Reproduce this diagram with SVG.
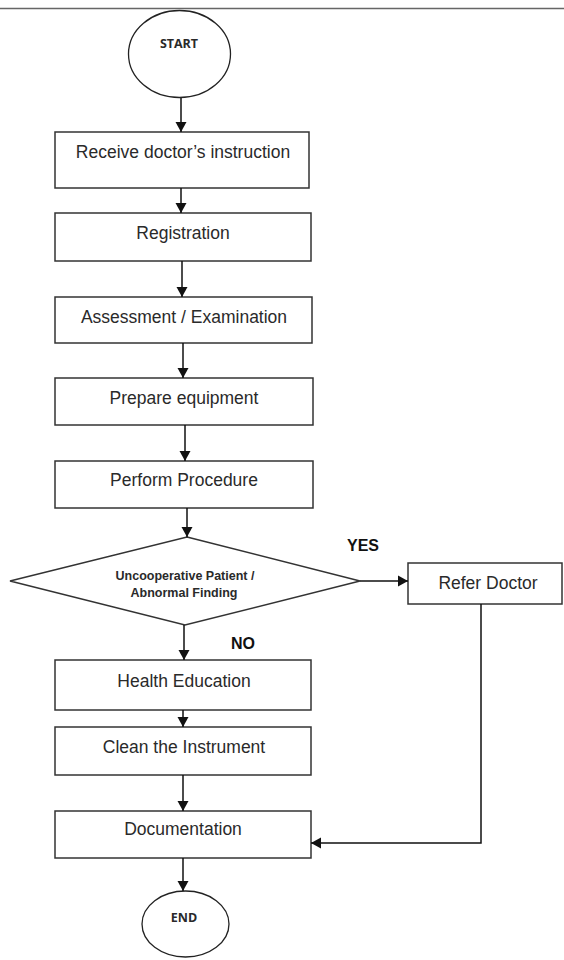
<svg xmlns="http://www.w3.org/2000/svg" width="564" height="960" viewBox="0 0 564 960">
  <defs>
    <marker id="arrow" viewBox="0 0 10 12" refX="10" refY="6" markerWidth="10" markerHeight="12" markerUnits="userSpaceOnUse" orient="auto">
      <path d="M0,0.5 L10,6 L0,11.5 Z" fill="#111"/>
    </marker>
    <style>
      .box { fill: #fff; stroke: #333; stroke-width: 1.5; }
      .term { fill: #fff; stroke: #222; stroke-width: 1.3; }
      .lbl { font-family: "Liberation Sans", Arial, sans-serif; font-size: 17.5px; fill: #2a2a2a; text-anchor: middle; }
      .term-lbl { font-family: "Open Sans", "Liberation Sans", sans-serif; font-weight: bold; font-size: 12.5px; fill: #2a2a2a; text-anchor: middle; }
      .dec-lbl { font-family: "Liberation Sans", Arial, sans-serif; font-weight: bold; font-size: 12.5px; fill: #2a2a2a; text-anchor: middle; }
      .branch { font-family: "Liberation Sans", Arial, sans-serif; font-weight: bold; font-size: 16px; fill: #111; text-anchor: middle; }
      .conn { fill: none; stroke: #111; stroke-width: 1.5; marker-end: url(#arrow); }
    </style>
  </defs>

  <rect width="564" height="960" fill="#fff"/>
  <line x1="0" y1="8.5" x2="564" y2="8.5" stroke="#666" stroke-width="1.5"/>

  <g id="start">
    <ellipse class="term" cx="179.5" cy="54" rx="51" ry="43.5"/>
    <text class="term-lbl" x="179" y="48">START</text>
  </g>

  <g id="receive">
    <rect class="box" x="55" y="132" width="254" height="56"/>
    <text class="lbl" x="183" y="158">Receive doctor’s instruction</text>
  </g>

  <g id="registration">
    <rect class="box" x="55" y="213" width="256" height="48"/>
    <text class="lbl" x="183" y="239">Registration</text>
  </g>

  <g id="assessment">
    <rect class="box" x="55" y="297" width="257" height="46"/>
    <text class="lbl" x="184" y="323">Assessment / Examination</text>
  </g>

  <g id="prepare">
    <rect class="box" x="55" y="378" width="258" height="47"/>
    <text class="lbl" x="184" y="404">Prepare equipment</text>
  </g>

  <g id="perform">
    <rect class="box" x="55" y="461" width="258" height="47"/>
    <text class="lbl" x="184" y="486">Perform Procedure</text>
  </g>

  <g id="decision">
    <polygon class="box" points="187,537 360,581 185,625 10,581"/>
    <text class="dec-lbl" x="185" y="580">Uncooperative Patient /</text>
    <text class="dec-lbl" x="184" y="597">Abnormal Finding</text>
  </g>

  <g id="refer">
    <rect class="box" x="408" y="563" width="154" height="41"/>
    <text class="lbl" x="488" y="589">Refer Doctor</text>
  </g>

  <g id="health">
    <rect class="box" x="55" y="660" width="256" height="50"/>
    <text class="lbl" x="184" y="687">Health Education</text>
  </g>

  <g id="clean">
    <rect class="box" x="55" y="727" width="256" height="48"/>
    <text class="lbl" x="184" y="753">Clean the Instrument</text>
  </g>

  <g id="documentation">
    <rect class="box" x="55" y="811" width="256" height="47"/>
    <text class="lbl" x="183" y="835">Documentation</text>
  </g>

  <g id="end">
    <ellipse class="term" cx="185.5" cy="924" rx="43.5" ry="33"/>
    <text class="term-lbl" x="184" y="922">END</text>
  </g>

  <g id="connectors">
    <line class="conn" x1="181" y1="98" x2="181" y2="132"/>
    <line class="conn" x1="181" y1="188" x2="181" y2="213"/>
    <line class="conn" x1="182" y1="261" x2="182" y2="297"/>
    <line class="conn" x1="183" y1="343" x2="183" y2="378"/>
    <line class="conn" x1="185" y1="425" x2="185" y2="461"/>
    <line class="conn" x1="187" y1="508" x2="187" y2="537"/>
    <line class="conn" x1="360" y1="581" x2="408" y2="581"/>
    <line class="conn" x1="184" y1="625" x2="184" y2="660"/>
    <line class="conn" x1="183" y1="710" x2="183" y2="727"/>
    <line class="conn" x1="183" y1="775" x2="183" y2="811"/>
    <line class="conn" x1="183" y1="858" x2="183" y2="891"/>
    <polyline class="conn" points="481,604 481,843 311,843"/>
    <text class="branch" x="363" y="551">YES</text>
    <text class="branch" x="243" y="649">NO</text>
  </g>
</svg>
